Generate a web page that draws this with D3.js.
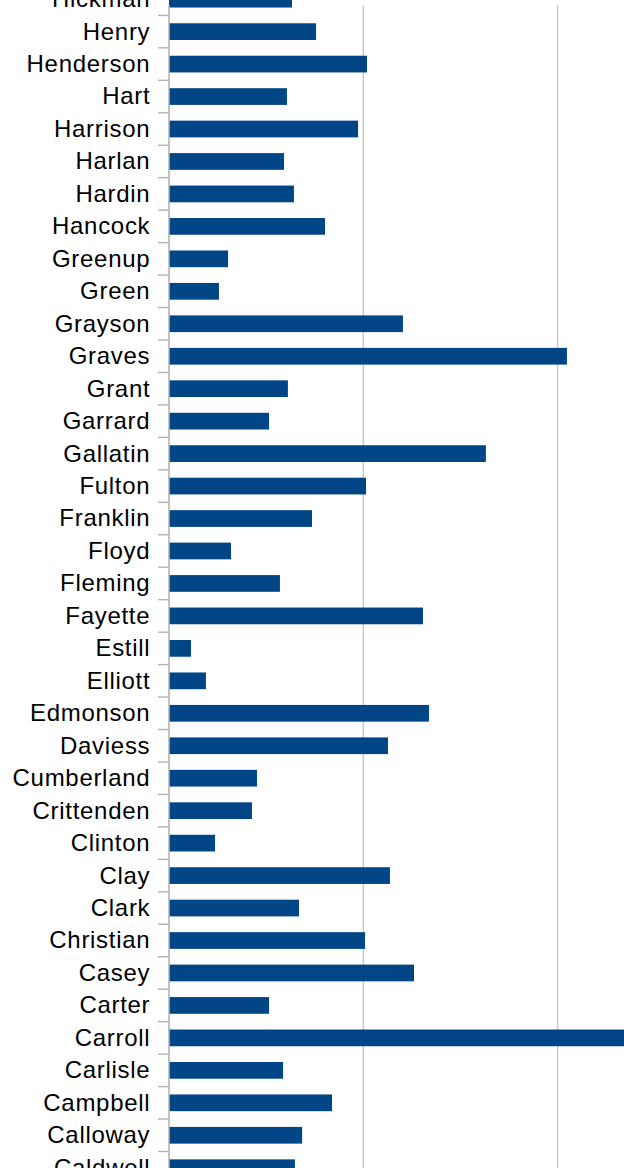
<!DOCTYPE html>
<html>
<head>
<meta charset="utf-8">
<script src="https://cdn.jsdelivr.net/npm/d3@7"></script>
<style>
html,body{margin:0;padding:0;background:#fff;}
svg{display:block;}
</style>
</head>
<body>
<svg id="chart" width="624" height="1168"></svg>
<script>
const categories = ["Hickman","Henry","Henderson","Hart","Harrison","Harlan","Hardin","Hancock","Greenup","Green","Grayson","Graves","Grant","Garrard","Gallatin","Fulton","Franklin","Floyd","Fleming","Fayette","Estill","Elliott","Edmonson","Daviess","Cumberland","Crittenden","Clinton","Clay","Clark","Christian","Casey","Carter","Carroll","Carlisle","Campbell","Calloway","Caldwell"];
const values = [63.3,75.7,101.9,60.7,97.3,59.2,64.3,80.3,30.4,25.7,120.4,204.8,61.2,51.5,163.1,101.4,73.6,31.9,57.1,130.7,11.3,19.0,133.8,112.7,45.3,42.7,23.7,113.7,66.9,100.9,126.1,51.5,250,58.7,83.9,68.5,64.8];
const gridTicks = [0,100,200,300];

const svg = d3.select("#chart");
const W = 624, H = 1168;
const axisX = 169;
const plotTop = 5;
const step = 32.46;
const bandTop = 15.4 - step;

const x = d3.scaleLinear().domain([0,100]).range([axisX, axisX+194.3]);
const y = d3.scaleBand().domain(categories)
  .range([bandTop, bandTop + step*categories.length])
  .paddingInner(0.485).paddingOuter(0.2425);

// gridlines
svg.append("g").selectAll("line").data(gridTicks.filter(d=>d>0)).join("line")
  .attr("x1", d=>x(d)).attr("x2", d=>x(d))
  .attr("y1", plotTop).attr("y2", H)
  .attr("stroke", "#c8c8c8").attr("stroke-width", 1.4);

// bars
svg.append("g").selectAll("rect").data(categories).join("rect")
  .attr("x", x(0))
  .attr("y", d=>y(d))
  .attr("width", (d,i)=>x(values[i]) - x(0))
  .attr("height", y.bandwidth())
  .attr("fill", "#004586");

// axis line
svg.append("line").attr("x1", axisX).attr("x2", axisX)
  .attr("y1", plotTop).attr("y2", H)
  .attr("stroke", "#b3b3b3").attr("stroke-width", 1.6);

// boundary ticks
const gap = (y.step() - y.bandwidth())/2;
const bounds = categories.map(d=>y(d)-gap).concat([y(categories[categories.length-1]) + y.bandwidth() + gap]);
svg.append("g").selectAll("line").data(bounds.filter(b=>b>=plotTop)).join("line")
  .attr("x1", axisX-11).attr("x2", axisX)
  .attr("y1", d=>d).attr("y2", d=>d)
  .attr("stroke", "#b3b3b3").attr("stroke-width", 1.4);

// labels
const yAxis = d3.axisLeft(y).tickSize(0).tickPadding(0);
const gAxis = svg.append("g").attr("transform", `translate(${axisX-18.7},0)`).call(yAxis);
gAxis.select(".domain").remove();
gAxis.selectAll("text")
  .attr("font-family", "'Liberation Sans', Arial, sans-serif")
  .attr("font-size", 24)
  .attr("fill", "#000")
  .attr("dy", "0.33em")
  .style("letter-spacing", "0.7px");
</script>
</body>
</html>
